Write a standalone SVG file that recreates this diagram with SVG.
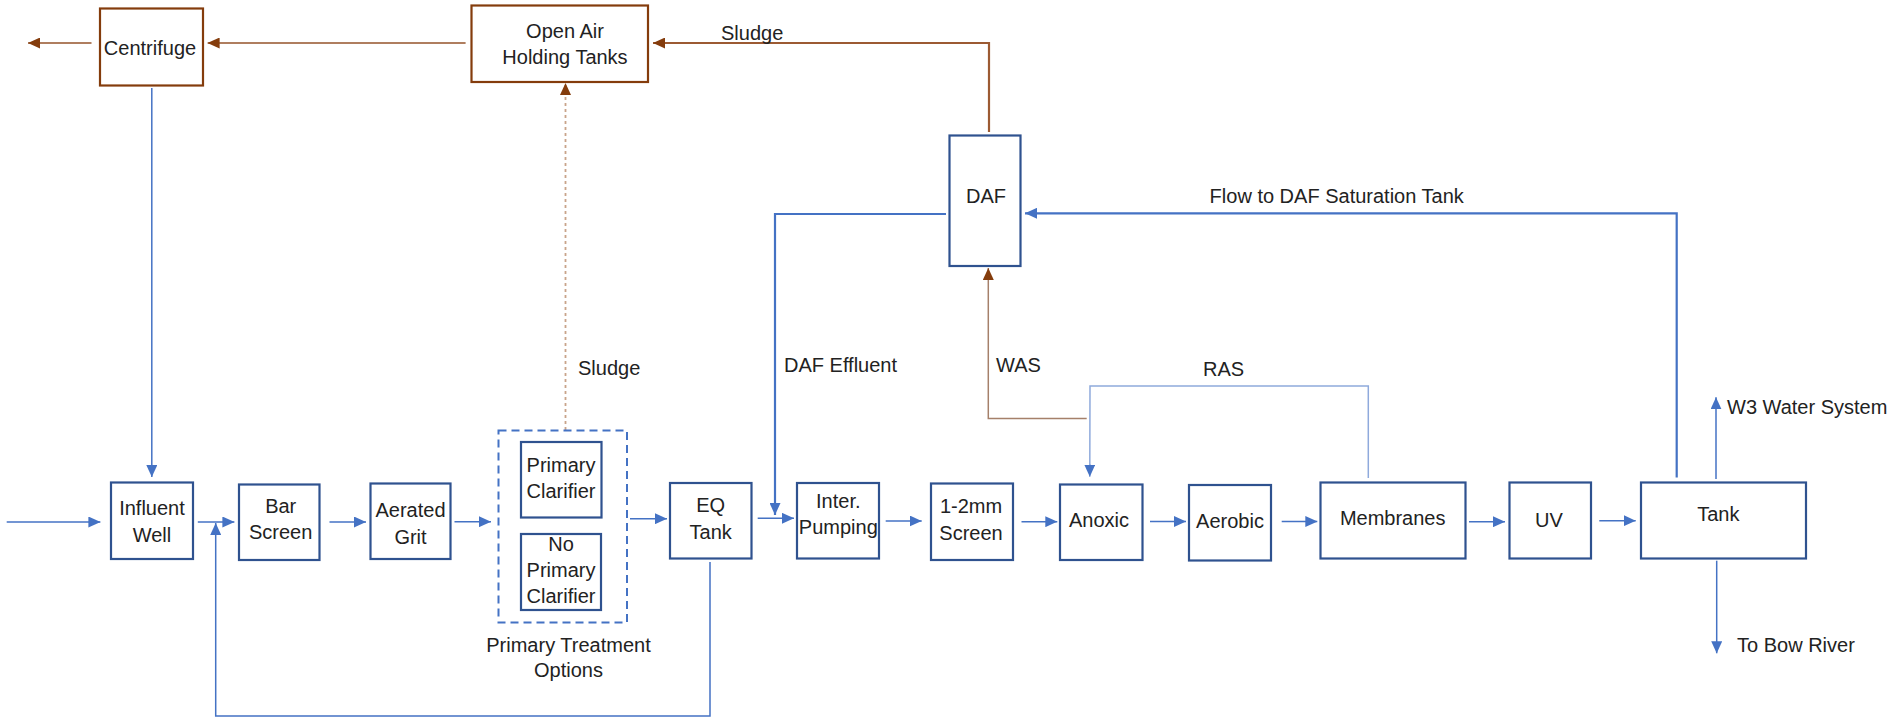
<svg xmlns="http://www.w3.org/2000/svg" width="1895" height="719" viewBox="0 0 1895 719">
<defs>
<marker id="ab" markerUnits="userSpaceOnUse" markerWidth="12" markerHeight="11" refX="12" refY="5.5" orient="auto"><path d="M0,0 L12,5.5 L0,11 z" fill="#4472C4"/></marker>
<marker id="ar" markerUnits="userSpaceOnUse" markerWidth="12" markerHeight="11" refX="12" refY="5.5" orient="auto"><path d="M0,0 L12,5.5 L0,11 z" fill="#843C0C"/></marker>
</defs>
<style>
.box{fill:#fff;stroke:#2F528F;stroke-width:2.2}
.bbox{fill:#fff;stroke:#843C0C;stroke-width:2.2}
.dash{fill:none;stroke:#4472C4;stroke-width:2;stroke-dasharray:8,5}
.c{fill:none;stroke:#4472C4;stroke-width:1.5;marker-end:url(#ab)}
.ct{fill:none;stroke:#4472C4;stroke-width:2.2;marker-end:url(#ab)}
.cl{fill:none;stroke:#8FAADC;stroke-width:1.5}
.r{fill:none;stroke:#94532A;stroke-width:1.5;marker-end:url(#ar)}
.rt{fill:none;stroke:#9C5A32;stroke-width:2.2;marker-end:url(#ar)}
.rd{fill:none;stroke:#C9A48A;stroke-width:1.8;stroke-dasharray:3,3;marker-end:url(#ar)}
text{font-family:"Liberation Sans",Arial,sans-serif;font-size:20px;fill:#222}
.m{text-anchor:middle}
</style>
<g id="connectors">
<path class="c" d="M6.7,522 L100.4,522"/>
<path class="c" d="M197.8,522 L234.4,522"/>
<path class="c" d="M329.5,522 L366,522"/>
<path class="c" d="M454.5,521.7 L491,521.7"/>
<path class="c" d="M630,518.7 L667,518.7"/>
<path class="c" d="M757.7,518.3 L794,518.3"/>
<path class="c" d="M885.7,521 L921.7,521"/>
<path class="c" d="M1021.5,521.7 L1057.3,521.7"/>
<path class="c" d="M1150,521.5 L1186,521.5"/>
<path class="c" d="M1281.7,521.5 L1317.3,521.5"/>
<path class="c" d="M1469,521.7 L1505,521.7"/>
<path class="c" d="M1599.3,520.7 L1635.7,520.7"/>
<path class="c" d="M151.8,88 L151.8,477"/>
<path class="c" d="M710,562 L710,716 L215.7,716 L215.7,523"/>
<path class="ct" d="M946,214 L775,214 L775,515"/>
<path class="ct" d="M1676.7,477.5 L1676.7,213.3 L1025,213.3"/>
<path class="c" d="M1716,479 L1716,397.3"/>
<path class="c" d="M1716.7,560.7 L1716.7,653.3"/>
<path class="cl" d="M1368.3,478 L1368.3,386 L1090,386 L1089.8,466"/>
<path class="c" d="M1089.8,464 L1089.8,476.7" style="stroke:#8FAADC"/>
<path class="r" d="M1086.7,418.5 L988.3,418.5 L988.3,268" style="stroke:#A5806A"/>
<path class="rt" d="M989,132 L989,43 L653,43"/>
<path class="r" d="M465.6,43 L207.6,43"/>
<path class="r" d="M91.5,43 L28,43"/>
<path class="rd" d="M565.5,430 L565.5,83"/>
</g>
<g id="centrifuge"><rect class="bbox" x="100" y="8.5" width="103" height="77"/><text class="m" x="150" y="55">Centrifuge</text></g>
<g id="open-air"><rect class="bbox" x="471.5" y="5.5" width="176.5" height="76.5"/><text class="m" x="565" y="37.5">Open Air</text><text class="m" x="565" y="64">Holding Tanks</text></g>
<g id="daf"><rect class="box" x="949.5" y="135.5" width="71" height="130.5"/><text class="m" x="986" y="203">DAF</text></g>
<g id="influent"><rect class="box" x="111" y="482.5" width="82" height="76.5"/><text class="m" x="152" y="515">Influent</text><text class="m" x="152" y="541.7">Well</text></g>
<g id="bar-screen"><rect class="box" x="239" y="484.5" width="80.5" height="75.5"/><text class="m" x="280.7" y="512.7">Bar</text><text class="m" x="280.7" y="539.3">Screen</text></g>
<g id="aerated-grit"><rect class="box" x="370.5" y="483.5" width="80" height="75.5"/><text class="m" x="410.5" y="517.3">Aerated</text><text class="m" x="410.5" y="544">Grit</text></g>
<g id="primary-options"><rect class="dash" x="498.5" y="430.5" width="128.5" height="192"/><text class="m" x="568.5" y="651.7">Primary Treatment</text><text class="m" x="568.5" y="677.3">Options</text></g>
<g id="primary-clarifier"><rect class="box" x="521" y="442" width="80.5" height="75.5"/><text class="m" x="561" y="471.7">Primary</text><text class="m" x="561" y="498.3">Clarifier</text></g>
<g id="no-primary-clarifier"><rect class="box" x="521" y="534" width="80" height="76"/><text class="m" x="561" y="550.5">No</text><text class="m" x="561" y="576.7">Primary</text><text class="m" x="561" y="603.3">Clarifier</text></g>
<g id="eq-tank"><rect class="box" x="670" y="483" width="81.5" height="75.5"/><text class="m" x="710.7" y="511.7">EQ</text><text class="m" x="710.7" y="539">Tank</text></g>
<g id="inter-pumping"><rect class="box" x="797" y="483" width="82" height="75.5"/><text class="m" x="838.3" y="508.3">Inter.</text><text class="m" x="838.3" y="534.3">Pumping</text></g>
<g id="screen"><rect class="box" x="931" y="483.5" width="82" height="76.5"/><text class="m" x="971" y="513.3">1-2mm</text><text class="m" x="971" y="540">Screen</text></g>
<g id="anoxic"><rect class="box" x="1060" y="484.5" width="82.5" height="75.5"/><text class="m" x="1099" y="526.7">Anoxic</text></g>
<g id="aerobic"><rect class="box" x="1189" y="485" width="82" height="75.5"/><text class="m" x="1230" y="528.3">Aerobic</text></g>
<g id="membranes"><rect class="box" x="1320.5" y="482.5" width="145" height="76"/><text class="m" x="1392.7" y="525">Membranes</text></g>
<g id="uv"><rect class="box" x="1509.5" y="482.5" width="81.5" height="76"/><text class="m" x="1549" y="527.3">UV</text></g>
<g id="tank"><rect class="box" x="1641" y="482.5" width="165" height="76"/><text class="m" x="1718.3" y="521">Tank</text></g>
<g id="labels">
<text x="721" y="40">Sludge</text>
<text x="1209.6" y="203">Flow to DAF Saturation Tank</text>
<text x="578" y="375">Sludge</text>
<text x="784" y="372">DAF Effluent</text>
<text x="996" y="372">WAS</text>
<text x="1203" y="376">RAS</text>
<text x="1727" y="414">W3 Water System</text>
<text x="1737" y="651.7">To Bow River</text>
</g>
</svg>
